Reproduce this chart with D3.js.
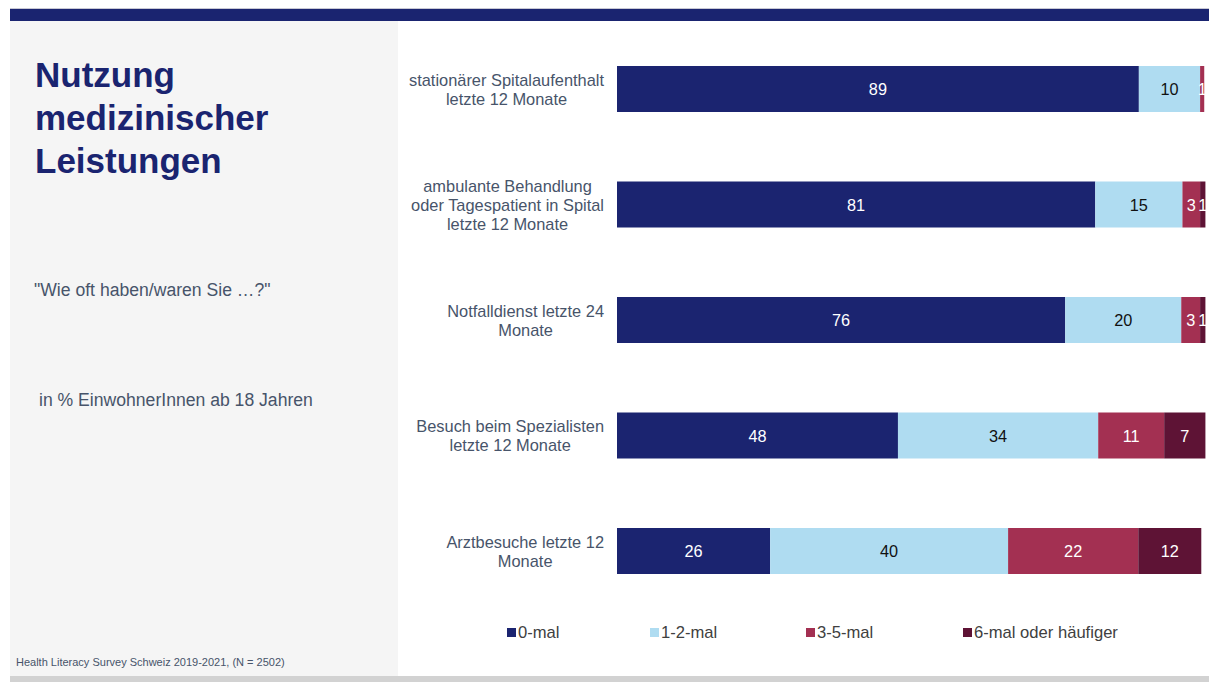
<!DOCTYPE html>
<html>
<head>
<meta charset="utf-8">
<script src="https://cdn.jsdelivr.net/npm/d3@7"></script>
<style>
  html, body { margin: 0; padding: 0; background: #fff; }
  svg { display: block; font-family: "Liberation Sans", Arial, sans-serif; }
</style>
</head>
<body>
<svg id="chart" width="1209" height="682"></svg>
<script>
// ---- data ----
const categories = [
  ["stationärer Spitalaufenthalt", "letzte 12 Monate"],
  ["ambulante Behandlung", "oder Tagespatient in Spital", "letzte 12 Monate"],
  ["Notfalldienst letzte 24", "Monate"],
  ["Besuch beim Spezialisten", "letzte 12 Monate"],
  ["Arztbesuche letzte 12", "Monate"]
];
const seriesNames = ["0-mal", "1-2-mal", "3-5-mal", "6-mal oder häufiger"];
const v0 = [88.6, 81.2, 76.1, 47.7, 26.0];
const v1 = [10.4, 14.8, 19.7, 34.0, 40.4];
const v2 = [0.7, 3.0, 3.2, 11.2, 22.1];
const v3 = [0.0, 0.9, 0.9, 7.0, 10.7];
const lab0 = [89, 81, 76, 48, 26];
const lab1 = [10, 15, 20, 34, 40];
const lab2 = [1, 3, 3, 11, 22];
const lab3 = [null, 1, 1, 7, 12];
const colors = ["#1b2470", "#afdcf1", "#a33052", "#5e1335"];
const labelColors = ["#ffffff", "#111111", "#ffffff", "#ffffff"];
const titleLines = ["Nutzung", "medizinischer", "Leistungen"];
const question = "\"Wie oft haben/waren Sie …?\"";
const unitNote = "in % EinwohnerInnen ab 18 Jahren";
const footer = "Health Literacy Survey Schweiz 2019-2021, (N = 2502)";

const values = [v0, v1, v2, v3];
const labels = [lab0, lab1, lab2, lab3];

const svg = d3.select("#chart");
const textGray = "#47546a";

// ---- background frame ----
svg.append("rect").attr("x", 10).attr("y", 8).attr("width", 1199).attr("height", 1).attr("fill", "#c8c8d4");
svg.append("rect").attr("x", 10).attr("y", 9).attr("width", 1199).attr("height", 12).attr("fill", "#1a2470");
svg.append("rect").attr("x", 10).attr("y", 21).attr("width", 388).attr("height", 655).attr("fill", "#f5f5f5");
svg.append("rect").attr("x", 10).attr("y", 676).attr("width", 1199).attr("height", 6).attr("fill", "#d2d2d2");

// ---- left panel text ----
svg.append("g").selectAll("text").data(titleLines).join("text")
  .attr("x", 35).attr("y", (d, i) => 87 + i * 43)
  .attr("font-size", 35).attr("font-weight", "bold").attr("fill", "#1a2470")
  .text(d => d);
svg.append("text").attr("x", 34).attr("y", 296).attr("font-size", 17.6).attr("fill", textGray).text(question);
svg.append("text").attr("x", 39).attr("y", 406).attr("font-size", 17.6).attr("fill", textGray).text(unitNote);
svg.append("text").attr("x", 16).attr("y", 666).attr("font-size", 11).attr("fill", textGray).text(footer);

// ---- scales ----
const x = d3.scaleLinear().domain([0, 100]).range([617, 1206]);
const idx = d3.range(categories.length);
const y = d3.scalePoint().domain(idx).range([89, 551]);
const barH = 46;

// stacked data
const rows = idx.map(i => {
  let acc = 0;
  return values.map((s, k) => {
    const seg = { row: i, k, x0: acc, x1: acc + s[i], label: labels[k][i] };
    acc += s[i];
    return seg;
  });
});
const segs = rows.flat();

svg.append("defs").append("clipPath").attr("id", "clip")
  .append("rect").attr("x", 600).attr("y", 0).attr("width", 606).attr("height", 682);

const gBars = svg.append("g").attr("clip-path", "url(#clip)");
gBars.selectAll("rect").data(segs.filter(d => d.x1 > d.x0)).join("rect")
  .attr("x", d => x(d.x0))
  .attr("y", d => y(d.row) - barH / 2)
  .attr("width", d => x(d.x1) - x(d.x0))
  .attr("height", barH)
  .attr("fill", d => colors[d.k]);

gBars.selectAll("text").data(segs.filter(d => d.label !== null && d.x1 > d.x0)).join("text")
  .attr("x", d => (x(d.x0) + x(d.x1)) / 2)
  .attr("y", d => y(d.row) + 6)
  .attr("text-anchor", "middle")
  .attr("font-size", 16.3)
  .attr("fill", d => labelColors[d.k])
  .text(d => d.label);

// ---- category labels (centered block, right edge at 604) ----
const gCat = svg.append("g");
idx.forEach(i => {
  const lines = categories[i];
  const g = gCat.append("g");
  const ts = g.selectAll("text").data(lines).join("text")
    .attr("font-size", 16.4).attr("fill", textGray)
    .attr("text-anchor", "middle")
    .attr("y", (d, j) => y(i) + 6 + (j - (lines.length - 1) / 2) * 19)
    .text(d => d);
  let maxW = 0;
  ts.each(function() { maxW = Math.max(maxW, this.getComputedTextLength()); });
  ts.attr("x", 604 - maxW / 2);
});

// ---- legend ----
const legendX = [507, 650, 806, 963];
const gLeg = svg.append("g");
seriesNames.forEach((name, k) => {
  gLeg.append("rect").attr("x", legendX[k]).attr("y", 628).attr("width", 9).attr("height", 9).attr("fill", colors[k]);
  gLeg.append("text").attr("x", legendX[k] + 11).attr("y", 638).attr("font-size", 16.6).attr("fill", "#404040").text(name);
});
</script>
</body>
</html>
